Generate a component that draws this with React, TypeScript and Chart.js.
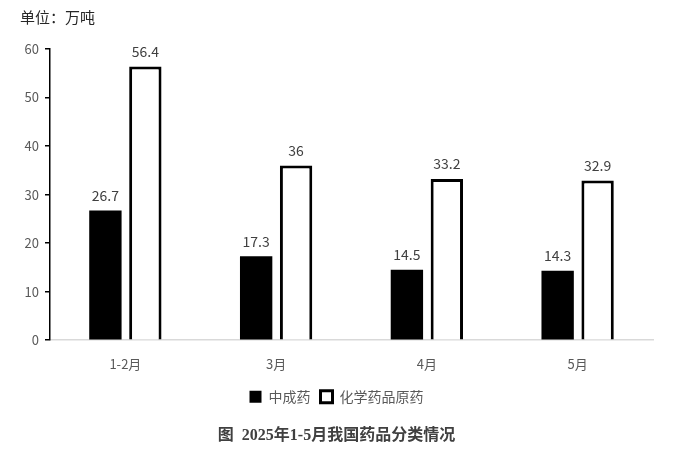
import React, { useEffect, useRef } from 'react';
import { Chart, registerables } from 'chart.js';

Chart.register(...registerables);

const categories = ['1-2月', '3月', '4月', '5月'];
const zhongchengyao = [26.7, 17.3, 14.5, 14.3];
const huaxueyuanyao = [56.4, 36, 33.2, 32.9];
const seriesNames = ['中成药', '化学药品原药'];
const unitText = '单位：万吨';
const titleText = '图  2025年1-5月我国药品分类情况';

const FONT = '"Noto Sans CJK SC", "Noto Sans", sans-serif';

// labels above bars + unit text top left
const extrasPlugin = {
  id: 'extras',
  afterDatasetsDraw(chart: any) {
    const ctx = chart.ctx;
    ctx.save();
    ctx.font = `14px ${FONT}`;
    ctx.fillStyle = '#404040';
    ctx.textAlign = 'center';
    ctx.textBaseline = 'bottom';
    chart.data.datasets.forEach((ds: any, i: number) => {
      const meta = chart.getDatasetMeta(i);
      meta.data.forEach((bar: any, j: number) => {
        ctx.fillText(String(ds.data[j]), bar.x, bar.y - 8);
      });
    });
    ctx.textAlign = 'left';
    ctx.textBaseline = 'middle';
    ctx.font = `15px ${FONT}`;
    ctx.fillStyle = '#262626';
    ctx.fillText(unitText, 20, 17);
    ctx.restore();
  }
};

export default function App() {
  const chartRef = useRef<HTMLCanvasElement>(null);
  const chartInstance = useRef<Chart | null>(null);

  useEffect(() => {
    if (!chartRef.current) return;
    if (chartInstance.current) chartInstance.current.destroy();
    const ctx = chartRef.current.getContext('2d');
    if (!ctx) return;

    chartInstance.current = new Chart(ctx, {
      type: 'bar',
      data: {
        labels: categories,
        datasets: [
          {
            label: seriesNames[0],
            data: zhongchengyao,
            backgroundColor: '#000000',
            borderColor: '#000000',
            borderWidth: 0,
            barPercentage: 0.81,
            categoryPercentage: 0.53
          },
          {
            label: seriesNames[1],
            data: huaxueyuanyao,
            backgroundColor: '#ffffff',
            borderColor: '#000000',
            borderWidth: 3,
            barPercentage: 0.81,
            categoryPercentage: 0.53
          }
        ]
      },
      options: {
        responsive: false,
        animation: false,
        layout: { padding: { top: 49, left: 20, right: 20, bottom: 16 } },
        plugins: {
          legend: {
            display: true,
            position: 'bottom',
            labels: {
              color: '#595959',
              font: { family: FONT, size: 14 },
              boxWidth: 12,
              boxHeight: 12,
              padding: 10
            }
          },
          title: {
            display: true,
            position: 'bottom',
            text: titleText,
            color: '#404040',
            font: { family: '"Liberation Serif", "Noto Sans CJK SC", serif', size: 16, weight: 'bold' },
            padding: { top: 12, bottom: 0 }
          },
          tooltip: { enabled: false }
        },
        scales: {
          x: {
            grid: { display: false },
            border: { color: '#d9d9d9', width: 1.5 },
            ticks: { color: '#595959', font: { family: FONT, size: 13 }, padding: 8 }
          },
          y: {
            min: 0,
            max: 60,
            ticks: { stepSize: 10, color: '#595959', font: { family: FONT, size: 13 }, padding: 6 },
            grid: { drawOnChartArea: false, color: '#000000', tickLength: 5, lineWidth: 1.5 },
            border: { color: '#000000', width: 1.5 },
            afterFit: (scale: any) => { scale.width = 30; }
          }
        }
      },
      plugins: [extrasPlugin]
    });

    return () => {
      if (chartInstance.current) {
        chartInstance.current.destroy();
        chartInstance.current = null;
      }
    };
  }, []);

  return (
    <div style={{ position: 'absolute', left: 0, top: 0, width: 673, height: 461, background: '#ffffff' }}>
      <canvas ref={chartRef} width={673} height={461}></canvas>
    </div>
  );
}
